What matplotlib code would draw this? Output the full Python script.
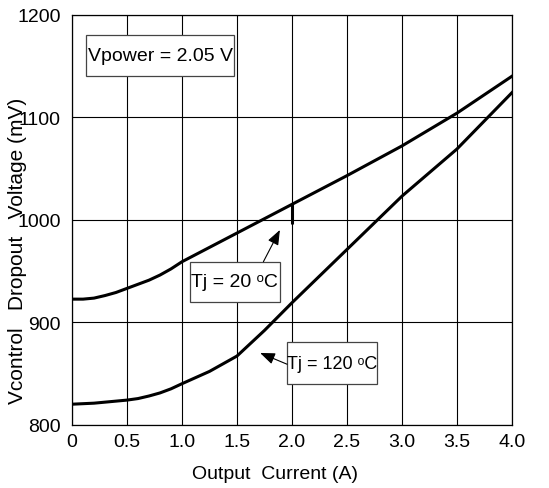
import matplotlib
matplotlib.use('Agg')
import matplotlib.pyplot as plt
from matplotlib.patches import Rectangle

plt.rcParams['font.family'] = ['Liberation Sans', 'DejaVu Sans']

current = [0.0, 0.1, 0.2, 0.3, 0.4, 0.5, 0.6, 0.7, 0.8, 0.9, 1.0, 1.25, 1.5, 1.75, 2.0, 2.5, 3.0, 3.5, 4.0]
vdrop_20 = [922.5, 922.5, 923.5, 926, 929, 933, 937, 941, 946, 952, 959, 973, 987, 1001, 1015, 1043, 1072, 1104, 1140]
vdrop_120 = [820, 820.5, 821, 822, 823, 824, 825.5, 828, 831, 835, 840, 852, 867, 892, 919, 971, 1023, 1069, 1124]

step_x = [2.0, 2.0]
step_y = [996, 1015]

xticks = [0, 0.5, 1.0, 1.5, 2.0, 2.5, 3.0, 3.5, 4.0]
xticklabels = ['0', '0.5', '1.0', '1.5', '2.0', '2.5', '3.0', '3.5', '4.0']
yticks = [800, 900, 1000, 1100, 1200]

# label boxes: (x0, x1, y0, y1) in data units, text centre, font size
boxes = [
    ((0.127, 1.47, 1140, 1180), (0.80, 1160), 'Vpower = 2.05 V', 14),
    ((1.075, 1.89, 920, 959), (1.48, 939.5), 'Tj = 20 \u1d52C', 14),
    ((1.955, 2.77, 840, 881), (2.365, 860), 'Tj = 120 \u1d52C', 13),
]
arrows = [((1.74, 959), (1.89, 990)), ((1.955, 859), (1.71, 870))]

fig = plt.figure(figsize=(5.49, 4.89), dpi=100)
ax = fig.add_axes([72 / 549, 1 - 425.7 / 489, 440 / 549, 410 / 489])

ax.plot(current, vdrop_20, color='black', lw=2.2)
ax.plot(current, vdrop_120, color='black', lw=2.2)
ax.plot(step_x, step_y, color='black', lw=2.2, solid_capstyle='butt')

ax.set_xlim(0, 4.0)
ax.set_ylim(800, 1200)
ax.set_xticks(xticks)
ax.set_xticklabels(xticklabels)
ax.set_yticks(yticks)
ax.tick_params(length=0, labelsize=14, pad=6)
ax.tick_params(axis='y', pad=8)
ax.grid(True, color='black', lw=0.8)
ax.set_axisbelow(True)
for s in ax.spines.values():
    s.set_linewidth(0.9)

ax.set_xlabel('Output  Current (A)', fontsize=14)
ax.xaxis.set_label_coords(0.461, -0.098)
ax.set_ylabel('Vcontrol   Dropout   Voltage (mV)', fontsize=15)
ax.yaxis.set_label_coords(-0.102, 0.426)

for (x0, x1, y0, y1), (tx, ty), txt, fs in boxes:
    ax.add_patch(Rectangle((x0, y0), x1 - x0, y1 - y0, fc='white', ec='#444444', lw=0.9, zorder=4))
    ax.text(tx, ty, txt, fontsize=fs, ha='center', va='center', zorder=5)

for start, tip in arrows:
    ax.annotate('', xy=tip, xytext=start, zorder=5,
                arrowprops=dict(arrowstyle='-|>,head_length=0.9,head_width=0.35',
                                color='black', lw=0.8, shrinkA=0, shrinkB=0))

fig.savefig('out.png', dpi=100)
